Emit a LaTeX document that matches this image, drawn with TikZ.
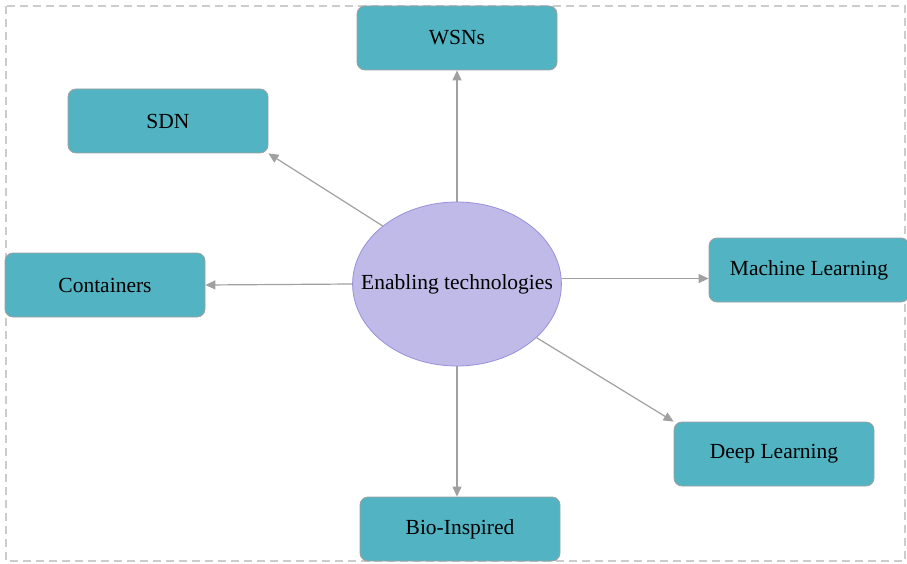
\documentclass[tikz,border=0pt]{standalone}
\usepackage{fontspec}
\setmainfont{Liberation Serif}
\definecolor{TechTeal}{HTML}{52B3C2}
\definecolor{HubLilac}{HTML}{BFBAE8}
\definecolor{HubEdge}{HTML}{9A90DC}
\definecolor{LinkGray}{HTML}{A0A0A0}
\usepackage{tikz}
\usetikzlibrary{arrows.meta, shapes.geometric}

\begin{document}
\begin{tikzpicture}[x=1pt, y=-1pt,
  techbox/.style={rectangle, rounded corners=8pt, fill=TechTeal, draw=LinkGray, line width=0.8pt,
    minimum width=200pt, minimum height=64pt, inner sep=0pt, font=\fontsize{21.5}{25}\selectfont},
  hub/.style={ellipse, fill=HubLilac, draw=HubEdge, line width=0.8pt,
    minimum width=208pt, minimum height=164pt, inner xsep=-22pt, inner ysep=0pt,
    font=\fontsize{21.5}{25}\selectfont},
  link/.style={-{Triangle[length=10pt, width=9pt]}, LinkGray, line width=1.2pt},
]
  \useasboundingbox (0,0) rectangle (907,564);
  % frame
  \draw[gray!40, line width=1.2pt, dash pattern=on 8pt off 5pt] (6,6) rectangle (905,561);
  % hub and leaves
  \node[hub] (ell) at (457,284) {Enabling technologies};
  \node[techbox] (wsn) at (457,38) {WSNs};
  \node[techbox] (sdn) at (168,121) {SDN};
  \node[techbox] (cont) at (105,285) {Containers};
  \node[techbox] (ml) at (809,270) {Machine Learning};
  \node[techbox] (dl) at (774,454) {Deep Learning};
  \node[techbox] (bio) at (460,529) {Bio-Inspired};
  % links
  \draw[link] (ell.north) -- (ell.north |- wsn.south);
  \draw[link] (ell.142) -- (sdn.south east);
  \draw[link] (ell.west) -- (cont.east);
  \draw[link] (ell.3) -- (ell.3 -| ml.west);
  \draw[link] (ell.-34) -- (dl.north west);
  \draw[link] (ell.south) -- (ell.south |- bio.north);
\end{tikzpicture}
\end{document}
